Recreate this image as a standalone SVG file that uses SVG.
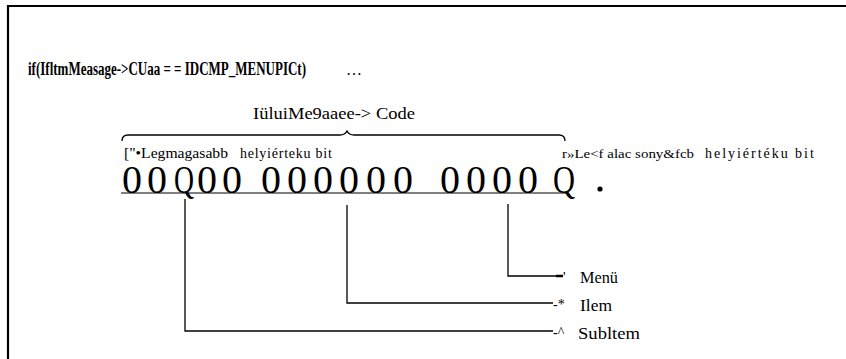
<svg xmlns="http://www.w3.org/2000/svg" width="846" height="359" viewBox="0 0 846 359">
<style>
.serif{font-family:"Liberation Serif","Times New Roman","DejaVu Serif",serif;fill:#000}
.dig{font-family:"Liberation Serif","Times New Roman",serif;font-size:40px;fill:#000;text-anchor:middle}
.q{font-family:"Liberation Serif","Times New Roman",serif;font-size:40px;fill:#000}
.ln{stroke:#000;fill:none}
</style>
<rect width="846" height="359" fill="#fff"/>
<g id="frame">
<path class="ln" d="M8,359 V6 H846" stroke-width="2.2"/>
</g>
<g id="code-line">
<text class="serif" x="28" y="75" font-size="18" font-weight="bold" textLength="278" lengthAdjust="spacingAndGlyphs">if(IfltmMeasage-&gt;CUaa = = IDCMP_MENUPICt)</text>
<text class="serif" x="346" y="75" font-size="16">…</text>
</g>
<g id="code-label">
<text class="serif" x="253" y="119" font-size="17" textLength="162" lengthAdjust="spacingAndGlyphs">IüluiMe9aaee-&gt; Code</text>
<path class="ln" stroke-width="1.3" d="M122,141 Q122,135 128,135 H340 Q345,135 347,131 Q349,135 354,135 H559 Q565,135 565,141"/>
</g>
<g id="msb-label">
<text class="serif" x="124" y="158" font-size="14.5" textLength="104" lengthAdjust="spacingAndGlyphs">["•Legmagasabb</text>
<text class="serif" x="240" y="158" font-size="14" letter-spacing="1.2" textLength="93">helyiérteku bit</text>
</g>
<g id="lsb-label">
<text class="serif" x="562" y="158" font-size="13.5" textLength="132" lengthAdjust="spacingAndGlyphs">r»Le&lt;f alac sony&amp;fcb</text>
<text class="serif" x="705" y="158" font-size="14" letter-spacing="1.2" textLength="110">helyiértéku bit</text>
</g>
<g id="bits">
<line class="ln" x1="121" y1="193" x2="566" y2="193" stroke-width="1"/>
<text class="dig" x="132" y="193">0</text>
<text class="dig" x="157" y="193">0</text>
<text class="q" x="174" y="193" textLength="20" lengthAdjust="spacingAndGlyphs">Q</text>
<text class="dig" x="207" y="193">0</text>
<text class="dig" x="232" y="193">0</text>
<text class="dig" x="271" y="193">0</text>
<text class="dig" x="297" y="193">0</text>
<text class="dig" x="323" y="193">0</text>
<text class="dig" x="349" y="193">0</text>
<text class="dig" x="376" y="193">0</text>
<text class="dig" x="403" y="193">0</text>
<text class="dig" x="450" y="193">0</text>
<text class="dig" x="476" y="193">0</text>
<text class="dig" x="502" y="193">0</text>
<text class="dig" x="528" y="193">0</text>
<text class="q" x="553" y="193" textLength="22" lengthAdjust="spacingAndGlyphs">Q</text>
<circle cx="600" cy="189" r="2.6" fill="#000"/>
</g>
<g id="connectors">
<path class="ln" stroke-width="1.3" d="M508,204 V276 H562"/>
<path class="ln" stroke-width="2.5" d="M556,276 H563"/>
<path class="ln" stroke-width="1.3" d="M347,205 V303 H553"/>
<path class="ln" stroke-width="1.3" d="M185,199 V331 H553"/>
</g>
<g id="menu">
<text class="serif" x="563" y="282" font-size="14">'</text>
<text class="serif" x="580" y="283" font-size="17" textLength="38" lengthAdjust="spacingAndGlyphs">Menü</text>
</g>
<g id="item">
<text class="serif" x="553" y="309" font-size="14">-*</text>
<text class="serif" x="580" y="311" font-size="17" textLength="32" lengthAdjust="spacingAndGlyphs">Ilem</text>
</g>
<g id="subitem">
<text class="serif" x="553" y="337" font-size="14">-^</text>
<text class="serif" x="578" y="339" font-size="17" textLength="62" lengthAdjust="spacingAndGlyphs">Subltem</text>
</g>
</svg>
